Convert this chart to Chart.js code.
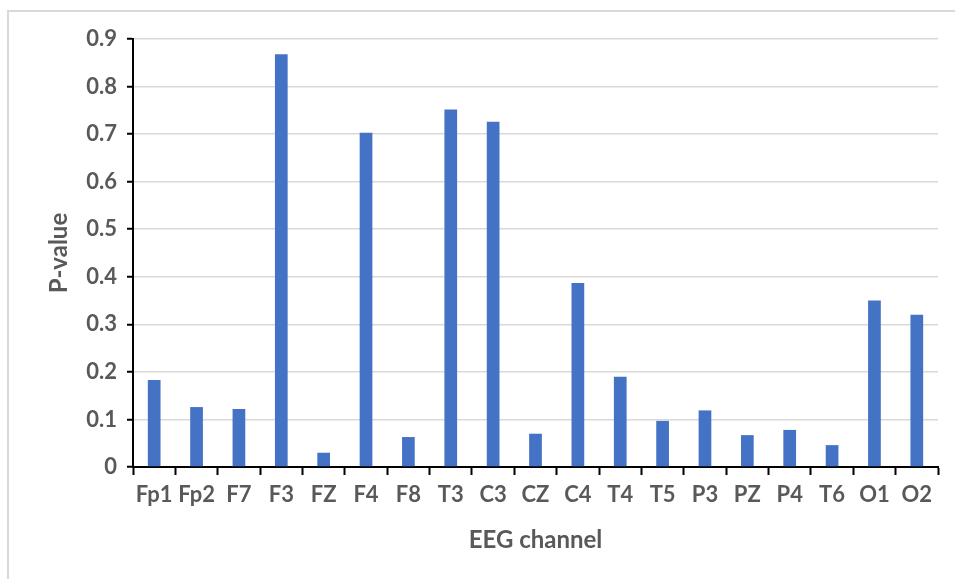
<!DOCTYPE html>
<html>
<head>
<meta charset="utf-8">
<script src="https://cdn.jsdelivr.net/npm/chart.js@4"></script>
<style>
  html, body { margin: 0; padding: 0; background: #fff; overflow: hidden; }
  #frame { position: absolute; left: 7px; top: 10px; width: 1200px; height: 1200px;
           border-top: 2px solid #d9d9d9; border-left: 2px solid #d9d9d9; }
  #wrap { position: absolute; left: 0; top: 0; width: 955px; height: 579px; }
</style>
</head>
<body>
<div id="frame"></div>
<div id="wrap"><canvas id="barChart"></canvas></div>
<script>
// EEG channels and their p-values
var channels = ['Fp1', 'Fp2', 'F7', 'F3', 'FZ', 'F4', 'F8', 'T3', 'C3', 'CZ',
                'C4', 'T4', 'T5', 'P3', 'PZ', 'P4', 'T6', 'O1', 'O2'];
var pValues = [0.183, 0.126, 0.122, 0.868, 0.030, 0.703, 0.063, 0.752, 0.726, 0.070,
               0.387, 0.190, 0.097, 0.119, 0.067, 0.078, 0.046, 0.350, 0.320];

var yMin = 0;
var yMax = 0.9;
var yStep = 0.1;

var textGray = '#595959';
var fontFamily = 'Lato, "Open Sans", sans-serif';

var barData = {
    labels: channels,
    datasets: [{
        label: 'P-value',
        data: pValues,
        backgroundColor: '#4472c4',
        borderWidth: 0,
        categoryPercentage: 1.0,
        barPercentage: 0.3
    }]
};

var barConfig = {
    type: 'bar',
    data: barData,
    options: {
        responsive: false,
        animation: false,
        layout: { padding: { top: 39, right: 17, bottom: 0, left: 0 } },
        plugins: {
            legend: { display: false },
            tooltip: { enabled: false }
        },
        scales: {
            x: {
                grid: {
                    drawOnChartArea: false,
                    drawTicks: true,
                    tickLength: 8,
                    tickColor: '#000',
                    tickWidth: 2
                },
                border: { color: '#000', width: 2 },
                ticks: {
                    color: textGray,
                    padding: 7,
                    maxRotation: 0,
                    autoSkip: false,
                    font: { family: fontFamily, size: 22, weight: 'bold' }
                },
                title: {
                    display: true,
                    text: 'EEG channel',
                    color: textGray,
                    padding: { top: 0, bottom: 24 },
                    font: { family: fontFamily, size: 24, weight: 'bold' }
                },
                afterFit: function (scale) { scale.height = 112; }
            },
            y: {
                min: yMin,
                max: yMax,
                grid: {
                    color: '#d9d9d9',
                    lineWidth: 1.5,
                    tickLength: 6,
                    tickColor: '#000',
                    tickWidth: 2
                },
                border: { color: '#000', width: 2 },
                ticks: {
                    stepSize: yStep,
                    color: textGray,
                    padding: 10,
                    font: { family: fontFamily, size: 22, weight: 'bold' },
                    callback: function (v) { return v === 0 ? '0' : Number(v).toFixed(1); }
                },
                title: {
                    display: true,
                    text: 'P-value',
                    color: textGray,
                    padding: { top: 45, bottom: 0 },
                    font: { family: fontFamily, size: 24, weight: 'bold' }
                },
                afterFit: function (scale) { scale.width = 133; }
            }
        }
    }
};

var canvas = document.getElementById('barChart');
canvas.width = 955;
canvas.height = 579;
var barChart = new Chart(canvas, barConfig);
</script>
</body>
</html>
